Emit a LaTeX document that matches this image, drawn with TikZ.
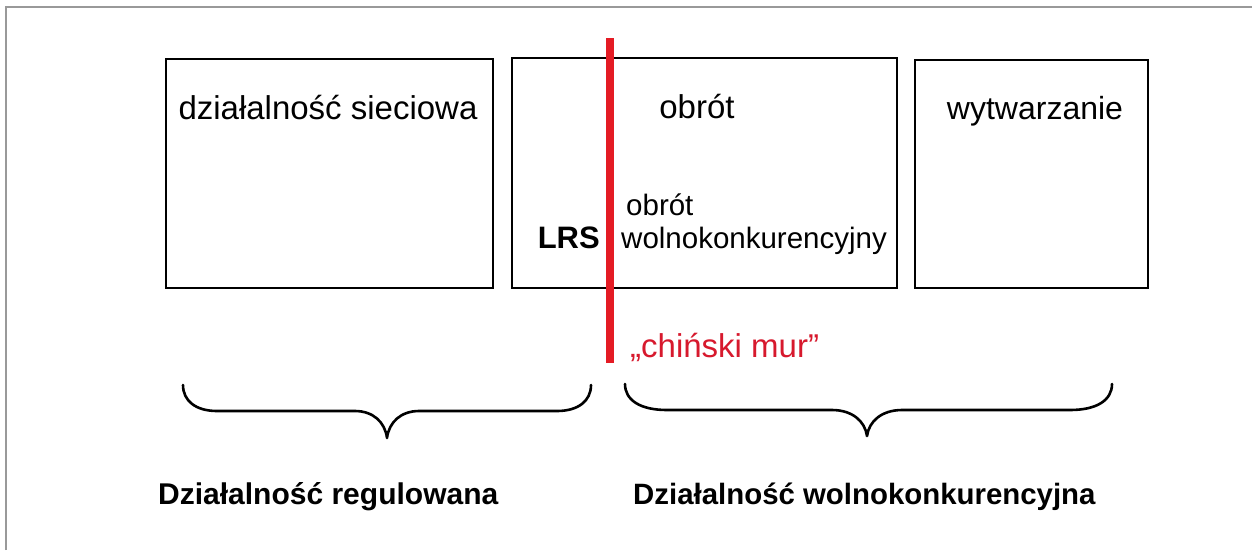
\documentclass[tikz,border=0pt]{standalone}
\usepackage{fontspec}
\setmainfont{Liberation Sans}
\begin{document}
\begin{tikzpicture}[x=1pt,y=-1pt,
  box/.style={draw=black,line width=2.8pt,inner sep=0pt,outer sep=0pt},
  lbl/.style={inner sep=0pt,font=\fontsize{29.5}{34}\selectfont},
  biglbl/.style={inner sep=0pt,font=\fontsize{33}{38}\selectfont},
  bold/.style={inner sep=0pt,font=\fontsize{30}{34}\selectfont\bfseries},
  brace/.style={line width=2.6pt,line cap=round,line join=round},
  wall/.style={line width=8pt,draw={rgb,255:red,228;green,27;blue,36}}]
\useasboundingbox (0,0) rectangle (1252,550);
\fill[white] (0,0) rectangle (1252,550);

% outer frame (only the top and left edges)
\draw[line width=2pt,black!40] (6,550) -- (6,7) -- (1252,7);

% activity boxes
\node[box,minimum width=327pt,minimum height=229pt] (net)  at (329.5,173.5) {};
\node[box,minimum width=385pt,minimum height=230pt] (trade) at (704.5,173) {};
\node[box,minimum width=233pt,minimum height=228pt] (gen)  at (1031.5,174) {};

% box labels
\node[biglbl,anchor=base] (netlbl) at (328,119) {działalność sieciowa};
\node[biglbl,anchor=base] (tradelbl) at (697,118) {obrót};
\node[biglbl,font=\fontsize{32}{38}\selectfont,anchor=base] (genlbl) at (1035,119) {wytwarzanie};
\node[lbl,anchor=base west] (free1) at (626,215) {obrót};
\node[lbl,anchor=base west] (free2) at (621,248) {wolnokonkurencyjny};
\node[bold,font=\fontsize{31}{34}\selectfont\bfseries,anchor=base east] (lrs) at (600,248) {LRS};

% the "Chinese wall" separating the two parts
\coordinate (walltop) at (610,38);
\coordinate (wallbot) at (610,363);
\draw[wall] (walltop) -- (wallbot);
\node[biglbl,anchor=base west,text={rgb,255:red,215;green,25;blue,45}] (wall) at (630,357) {„chiński mur”};

% braces
\draw[brace] (183,385) .. controls (183,401) and (196,411) .. (217,411)
  -- (355,411) .. controls (373,411) and (385,422) .. (387,438)
  .. controls (389,422) and (401,411) .. (419,411)
  -- (557,411) .. controls (578,411) and (591,401) .. (591,385);
\draw[brace] (625,384) .. controls (625,400) and (640,410) .. (667,410)
  -- (832,410) .. controls (852,410) and (865,421) .. (867,436)
  .. controls (869,421) and (882,410) .. (902,410)
  -- (1070,410) .. controls (1097,410) and (1112,400) .. (1112,384);

% group captions
\node[bold,anchor=base west] (reg) at (158,504) {Działalność regulowana};
\node[bold,font=\fontsize{29.4}{34}\selectfont\bfseries,anchor=base west] (comp) at (633,504) {Działalność wolnokonkurencyjna};
\end{tikzpicture}
\end{document}
